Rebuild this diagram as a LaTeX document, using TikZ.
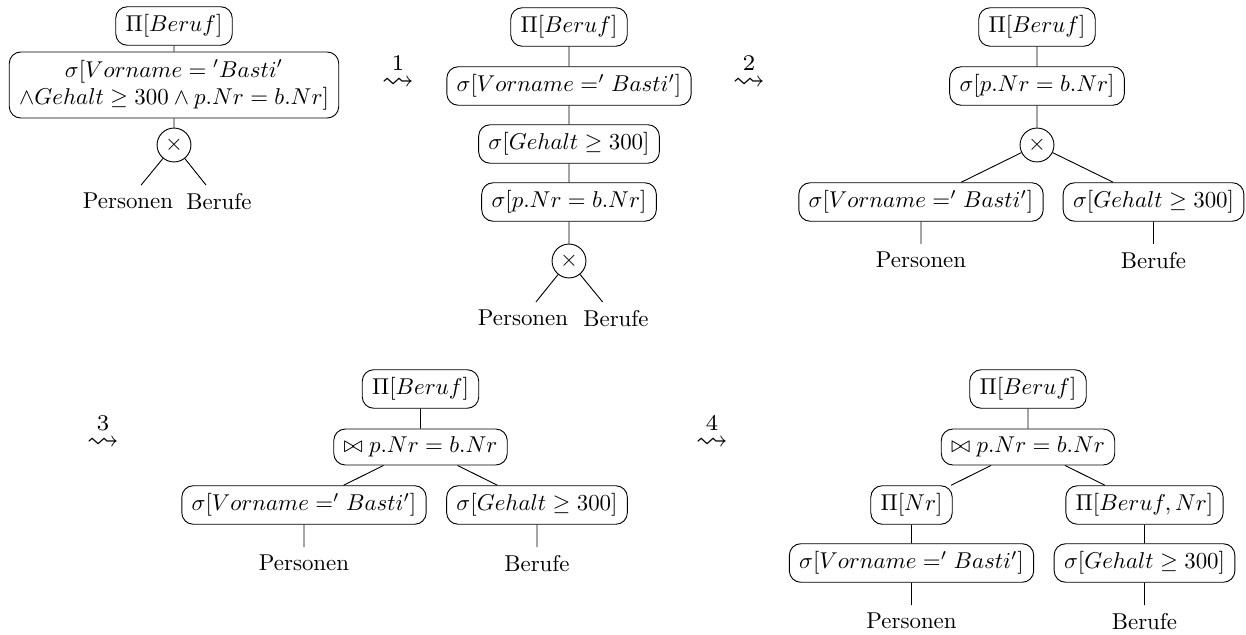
\documentclass[tikz,border=0pt]{standalone}
\usepackage{amssymb}
\begin{document}
\begin{tikzpicture}[x=0.4367pt,y=-0.4367pt,
  box/.style={draw, rounded corners=5pt, inner xsep=4.3pt, inner ysep=3.4pt},
  op/.style={draw, circle, minimum size=14.8pt, inner sep=0pt},
  leaf/.style={inner sep=3.33pt, anchor=north},
  stepsym/.style={inner sep=0pt, scale=1.4}]
\useasboundingbox (0,0) rectangle (1246,635);
% ---------- tree 1
\node[box] (a1) at (174,26) {$\Pi[Beruf]$};
\node[box, align=center] (a2) at (174,85) {$\sigma[Vorname = {}'Basti'$\\$\wedge Gehalt \geq 300 \wedge p.Nr = b.Nr]$};
\node[op] (a3) at (174,145) {$\times$};
\node[leaf] (a4) at (128,185) {Personen};
\node[leaf] (a5) at (219,185) {Berufe};
\draw (a1) -- (a2) (a2) -- (a3) (a3) -- (a4) (a3) -- (a5);
% arrows
\node[stepsym] (s1) at (398,71) {$\stackrel{1}{\leadsto}$};
\node[stepsym] (s2) at (749,71) {$\stackrel{2}{\leadsto}$};
\node[stepsym] (s3) at (103,431) {$\stackrel{3}{\leadsto}$};
\node[stepsym] (s4) at (712,431) {$\stackrel{4}{\leadsto}$};
% ---------- tree 2
\node[box] (b1) at (569,27) {$\Pi[Beruf]$};
\node[box] (b2) at (569,86) {$\sigma[Vorname =' Basti']$};
\node[box] (b3) at (569,144) {$\sigma[Gehalt \geq 300]$};
\node[box] (b4) at (569,202) {$\sigma[p.Nr = b.Nr]$};
\node[op] (b5) at (569,261) {$\times$};
\node[leaf] (b6) at (523,302) {Personen};
\node[leaf] (b7) at (616,302) {Berufe};
\draw (b1) -- (b2) (b2) -- (b3) (b3) -- (b4) (b4) -- (b5) (b5) -- (b6) (b5) -- (b7);
% ---------- tree 3
\node[box] (c1) at (1037,27) {$\Pi[Beruf]$};
\node[box] (c2) at (1037,86) {$\sigma[p.Nr = b.Nr]$};
\node[op] (c3) at (1037,145) {$\times$};
\node[box] (c4) at (921,202) {$\sigma[Vorname =' Basti']$};
\node[box] (c5) at (1153.5,202) {$\sigma[Gehalt \geq 300]$};
\node[leaf] (c6) at (921,244) {Personen};
\node[leaf] (c7) at (1153.5,244) {Berufe};
\draw (c1) -- (c2) (c2) -- (c3) (c3) -- (c4) (c3) -- (c5) (c4) -- (c6) (c5) -- (c7);
% ---------- tree 4
\node[box] (d1) at (420.5,389) {$\Pi[Beruf]$};
\node[box] (d2) at (420.5,447) {$\bowtie p.Nr = b.Nr$};
\node[box] (d3) at (304,505) {$\sigma[Vorname =' Basti']$};
\node[box] (d4) at (537,505) {$\sigma[Gehalt \geq 300]$};
\node[leaf] (d5) at (304,547) {Personen};
\node[leaf] (d6) at (537,547) {Berufe};
\draw (d1) -- (d2) (d2) -- (d3) (d2) -- (d4) (d3) -- (d5) (d4) -- (d6);
% ---------- tree 5
\node[box] (e1) at (1028,389) {$\Pi[Beruf]$};
\node[box] (e2) at (1028,447) {$\bowtie p.Nr = b.Nr$};
\node[box] (e3) at (911.5,505) {$\Pi[Nr]$};
\node[box] (e4) at (1144.5,505) {$\Pi[Beruf, Nr]$};
\node[box] (e5) at (911.5,563) {$\sigma[Vorname =' Basti']$};
\node[box] (e6) at (1144.5,563) {$\sigma[Gehalt \geq 300]$};
\node[leaf] (e7) at (911.5,605) {Personen};
\node[leaf] (e8) at (1144.5,605) {Berufe};
\draw (e1) -- (e2) (e2) -- (e3) (e2) -- (e4) (e3) -- (e5) (e4) -- (e6) (e5) -- (e7) (e6) -- (e8);
\end{tikzpicture}
\end{document}
